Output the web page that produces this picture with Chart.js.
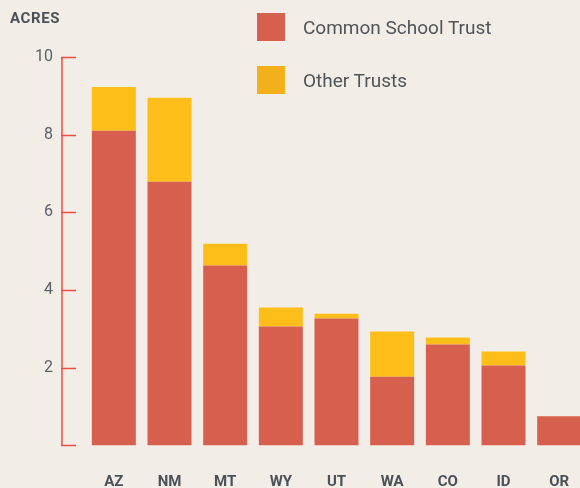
<!DOCTYPE html>
<html>
<head>
<meta charset="utf-8">
<script src="https://cdn.jsdelivr.net/npm/chart.js@4/dist/chart.umd.min.js"></script>
<style>
  html, body { margin: 0; padding: 0; background: #f2ede6; overflow: hidden; }
  #wrap { position: relative; width: 580px; height: 488px; overflow: hidden; }
  #acresChart { position: absolute; left: 0; top: 0; }
  #unit { position: absolute; left: 10px; top: 9px; font: bold 15px Roboto, sans-serif; color: #4b5159; letter-spacing: 0.6px; }
  .sw { position: absolute; left: 257px; width: 28px; height: 28px; }
  .lt { position: absolute; left: 303px; font: 19px Roboto, sans-serif; color: #50555a; line-height: 28px; }
</style>
</head>
<body>
<div id="wrap">
  <canvas id="acresChart" width="587" height="488"></canvas>
  <div id="unit">ACRES</div>
  <div class="sw" style="top:13px;background:#d6604d"></div>
  <div class="lt" style="top:14px">Common School Trust</div>
  <div class="sw" style="top:66px;background:#f4b01a"></div>
  <div class="lt" style="top:67px">Other Trusts</div>
</div>
<script>
const states = ['AZ', 'NM', 'MT', 'WY', 'UT', 'WA', 'CO', 'ID', 'OR'];
const commonSchool = [8.10, 6.79, 4.63, 3.06, 3.27, 1.77, 2.60, 2.06, 0.75];
const otherTrusts = [1.13, 2.16, 0.56, 0.49, 0.12, 1.16, 0.18, 0.36, 0];
const yTicks = [2, 4, 6, 8, 10];

// red axis line with short ticks pointing into the plot
const redAxis = {
    id: 'redAxis',
    afterDraw(chart) {
        const y = chart.scales.y;
        const ctx = chart.ctx;
        const x0 = chart.chartArea.left - 24;
        ctx.save();
        ctx.strokeStyle = '#e8503f';
        ctx.lineWidth = 1.5;
        ctx.beginPath();
        ctx.moveTo(x0, y.getPixelForValue(10));
        ctx.lineTo(x0, y.getPixelForValue(0));
        [0].concat(yTicks).forEach(v => {
            const py = Math.round(y.getPixelForValue(v)) + 0.5;
            ctx.moveTo(x0 - 1, py);
            ctx.lineTo(x0 + 14, py);
        });
        ctx.stroke();
        ctx.restore();
    }
};

const ctx = document.getElementById('acresChart').getContext('2d');
new Chart(ctx, {
    type: 'bar',
    data: {
        labels: states,
        datasets: [{
            label: 'Common School Trust',
            data: commonSchool,
            backgroundColor: '#d6604d'
        }, {
            label: 'Other Trusts',
            data: otherTrusts,
            backgroundColor: '#fdbe1a'
        }]
    },
    options: {
        responsive: false,
        animation: false,
        layout: { padding: { top: 57, left: 0, right: 0, bottom: 0 } },
        datasets: { bar: { categoryPercentage: 1, barPercentage: 0.79 } },
        plugins: { legend: { display: false }, tooltip: { enabled: false } },
        scales: {
            x: {
                stacked: true,
                grid: { display: false, drawTicks: false },
                border: { display: false },
                ticks: { padding: 28, color: '#4b5159', font: { family: 'Roboto', size: 15, weight: 'bold' } },
                afterFit(scale) {
                    scale.height = 42;
                    scale.paddingLeft = 0;
                    scale.paddingRight = 0;
                }
            },
            y: {
                stacked: true,
                min: 0,
                max: 10,
                afterBuildTicks(scale) { scale.ticks = yTicks.map(v => ({ value: v })); },
                grid: { display: false, drawTicks: false },
                border: { display: false },
                ticks: { padding: 33, color: '#5b6169', font: { family: 'Roboto', size: 16 } },
                afterFit(scale) { scale.width = 86; }
            }
        }
    },
    plugins: [redAxis]
});
</script>
</body>
</html>
